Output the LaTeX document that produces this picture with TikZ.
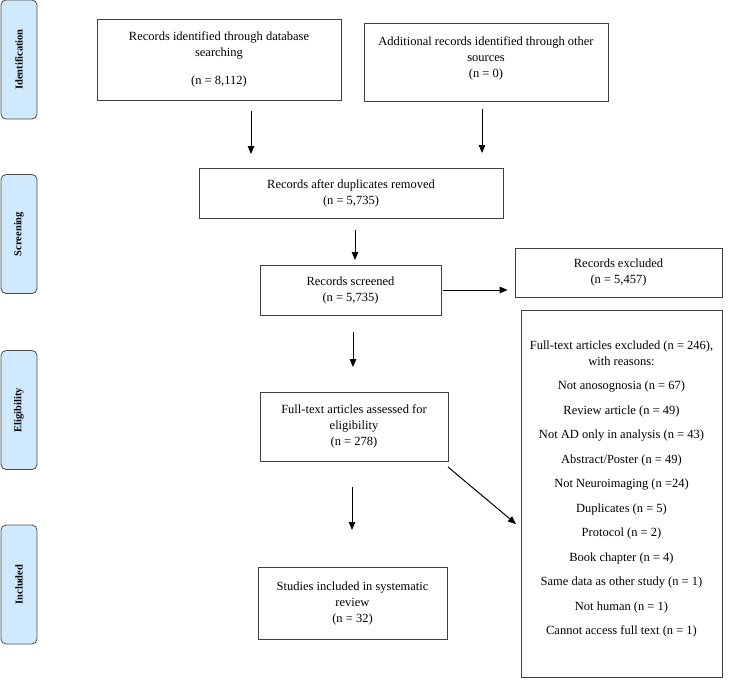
\documentclass[tikz,border=0pt]{standalone}
\usepackage{fontspec}
\setmainfont{Liberation Serif}
\usetikzlibrary{arrows.meta}
\definecolor{phaseblue}{HTML}{D0E9FC}

\begin{document}
\begin{tikzpicture}[x=1pt,y=-1pt,
    box/.style={draw=black!75,line width=0.8pt,align=center,inner sep=2pt,
      font=\fontsize{12.5}{16}\selectfont},
    phase/.style={draw=black!70,line width=0.8pt,fill=phaseblue,rounded corners=5pt,
      rotate=90,minimum width=119pt,minimum height=36pt,inner sep=0pt,
      font=\bfseries\fontsize{10.5}{12}\selectfont},
    arr/.style={-{Triangle[length=8pt,width=6.5pt]},line width=1pt}]
    \useasboundingbox (0,0) rectangle (730,680);
    % phases
    \node[phase] (ident) at (19,59.5) {Identification};
    \node[phase] (screen) at (19,234) {Screening};
    \node[phase] (elig) at (19,410) {Eligibility};
    \node[phase] (incl) at (19,584.5) {Included};
    % boxes
    \node[box,minimum width=244pt,minimum height=81pt] (db) at (219,59.5)
        {Records identified through database\\ searching\\[12pt] (n = 8,112)};
    \node[box,minimum width=244pt,minimum height=78pt] (other) at (486,62)
        {Additional records identified through other\\ sources\\ (n = 0)\\[-6pt]~};
    \node[box,minimum width=304pt,minimum height=50pt] (dup) at (351,193)
        {Records after duplicates removed\\ (n = 5,735)};
    \node[box,minimum width=181pt,minimum height=50pt] (scr) at (350.5,290)
        {Records screened\\ (n = 5,735)};
    \node[box,minimum width=207pt,minimum height=49pt] (excl) at (618.5,272.5)
        {Records excluded\\ (n = 5,457)};
    \node[box,minimum width=188pt,minimum height=69pt] (full) at (354,426.5)
        {Full-text articles assessed for\\ eligibility\\ (n = 278)};
    \node[box,minimum width=189pt,minimum height=72pt] (study) at (352.5,603)
        {Studies included in systematic\\ review\\ (n = 32)};
    \node[box,minimum width=201pt,minimum height=367pt] (fullex) at (621.5,493.5)
        {Full-text articles excluded (n = 246),\\ with reasons:\\[8.5pt]
         Not anosognosia (n = 67)\\[8.5pt]
         Review article (n = 49)\\[8.5pt]
         Not AD only in analysis (n = 43)\\[8.5pt]
         Abstract/Poster (n = 49)\\[8.5pt]
         Not Neuroimaging (n =24)\\[8.5pt]
         Duplicates (n = 5)\\[8.5pt]
         Protocol (n = 2)\\[8.5pt]
         Book chapter (n = 4)\\[8.5pt]
         Same data as other study (n = 1)\\[8.5pt]
         Not human (n = 1)\\[8.5pt]
         Cannot access full text (n = 1)\\[-4pt]~};
    % arrow ends
    \coordinate (db-out) at (251,111);
    \coordinate (db-in) at (251,154);
    \coordinate (other-out) at (482,109);
    \coordinate (other-in) at (482,153);
    \coordinate (dup-out) at (355,230);
    \coordinate (scr-in) at (355,260);
    \coordinate (scr-out) at (353,332);
    \coordinate (full-in) at (353,367);
    \coordinate (full-out) at (352,487);
    \coordinate (study-in) at (352,530);
    \coordinate (diag-out) at (448,467);
    \coordinate (fullex-in) at (516,524);
    % arrows
    \draw[arr] (db-out) -- (db-in);
    \draw[arr] (other-out) -- (other-in);
    \draw[arr] (dup-out) -- (scr-in);
    \draw[arr,shorten <=2pt,shorten >=7pt] (scr.east) -- (excl.west |- scr.east);
    \draw[arr] (scr-out) -- (full-in);
    \draw[arr] (full-out) -- (study-in);
    \draw[arr] (diag-out) -- (fullex-in);
\end{tikzpicture}
\end{document}
